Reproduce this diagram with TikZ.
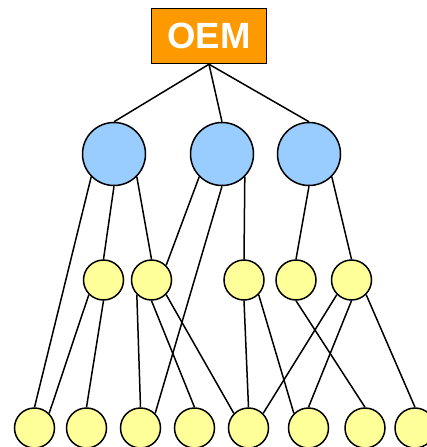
\documentclass[tikz,border=0pt]{standalone}
\usepackage{fontspec}
\setmainfont{Liberation Sans}
\definecolor{oemorange}{HTML}{FF9900}
\definecolor{hubblue}{HTML}{99CCFF}
\definecolor{leafyellow}{HTML}{FFFF99}
\begin{document}
\begin{tikzpicture}[x=1pt,y=-1pt,
  link/.style={draw=black,line width=1.5pt},
  hub/.style={circle,draw=black,line width=1.5pt,fill=hubblue,minimum size=63pt,inner sep=0pt},
  leaf/.style={circle,draw=black,line width=1.5pt,fill=leafyellow,minimum size=40pt,inner sep=0pt},
  oembox/.style={rectangle,draw=black,line width=1.5pt,fill=oemorange,minimum width=115pt,minimum height=55pt,inner sep=0pt,text=white,font=\fontsize{36.5}{40}\selectfont\bfseries}]
\clip (0,0) rectangle (427,447);
\fill[white] (0,0) rectangle (427,447);

% top node
\node[oembox] (oem) at (209,36) {OEM};

% second tier
\node[hub] (h1) at (114,154) {};
\node[hub] (h2) at (222,154) {};
\node[hub] (h3) at (309,154) {};

% third tier
\node[leaf] (m1) at (103.5,280) {};
\node[leaf] (m2) at (151.5,280) {};
\node[leaf] (m3) at (244,280) {};
\node[leaf] (m4) at (296,280) {};
\node[leaf] (m5) at (351.5,280) {};

% bottom tier
\node[leaf] (l1) at (34.5,428) {};
\node[leaf] (l2) at (86.5,428) {};
\node[leaf] (l3) at (140.5,428) {};
\node[leaf] (l4) at (194.5,428) {};
\node[leaf] (l5) at (248.5,428) {};
\node[leaf] (l6) at (308.5,428) {};
\node[leaf] (l7) at (365,428) {};
\node[leaf] (l8) at (415,428) {};

% OEM to hubs
\draw[link] (oem.south) -- (h1.north);
\draw[link] (oem.south) -- (h2.north);
\draw[link] (oem.south) -- (h3.north);

% hubs down
\draw[link] (h1.225) -- (l1.north);
\draw[link] (h1.south) -- (m1.north);
\draw[link] (h1.315) -- (m2.north);
\draw[link] (h2.225) -- (m2.45);
\draw[link] (h2.south) -- (l3.45);
\draw[link] (h2.315) -- (m3.north);
\draw[link] (h3.south) -- (m4.north);
\draw[link] (h3.315) -- (m5.north);

% third tier down
\draw[link] (m1.225) -- (l1.45);
\draw[link] (m1.south) -- (l2.north);
\draw[link] (m2.225) -- (l3.north);
\draw[link] (m2.south) -- (l4.north);
\draw[link] (m2.315) -- (l5.135);
\draw[link] (m3.south) -- (l5.north);
\draw[link] (m3.315) -- (l6.135);
\draw[link] (m4.south) -- (l7.north);
\draw[link] (m5.225) -- (l5.45);
\draw[link] (m5.south) -- (l6.north);
\draw[link] (m5.315) -- (l8.north);
\end{tikzpicture}
\end{document}
